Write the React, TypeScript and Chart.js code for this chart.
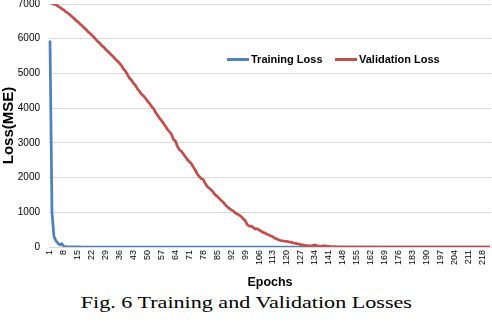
import React, { useEffect, useRef } from "react";
import { Chart, registerables } from "chart.js";

Chart.register(...registerables);

const epochs: string[] = [];
for (let i = 1; i <= 222; i++) epochs.push(String(i));

const trainingLoss = [
  5950, 1000, 300, 180, 110, 60, 90, 15, 5, 3,
  2, 2, 1, 1, 1, 1, 0, 0, 0, 0,
  0, 0, 0, 0, 0, 0, 0, 0, 0, 0,
  0, 0, 0, 0, 0, 0, 0, 0, 0, 0,
  0, 0, 0, 0, 0, 0, 0, 0, 0, 0,
  0, 0, 0, 0, 0, 0, 0, 0, 0, 0,
  0, 0, 0, 0, 0, 0, 0, 0, 0, 0,
  0, 0, 0, 0, 0, 0, 0, 0, 0, 0,
  0, 0, 0, 0, 0, 0, 0, 0, 0, 0,
  0, 0, 0, 0, 0, 0, 0, 0, 0, 0,
  0, 0, 0, 0, 0, 0, 0, 0, 0, 0,
  0, 0, 0, 0, 0, 0, 0, 0, 0, 0,
  0, 0, 0, 0, 0, 0, 0, 0, 0, 0,
  0, 0, 0, 0, 0, 0, 0, 0, 0, 30,
  10, 0, 0, 0, 0, 0, 0, 0, 0, 0,
  0, 0, 0, 0, 0, 0, 0, 0, 0, 0,
  0, 0, 0, 0, 0, 0, 0, 0, 0, 0,
  0, 0, 0, 0, 0, 0, 0, 0, 0, 0,
  0, 0, 0, 0, 0, 0, 0, 0, 0, 0,
  0, 0, 0, 0, 0, 0, 0, 0, 0, 0,
  0, 0, 0, 0, 0, 0, 0, 0, 0, 0,
  0, 0, 0, 0, 0, 0, 0, 0, 0, 0,
  0, 0,
];

const validationLoss = [
  7040, 7020, 6990, 6985, 6940, 6900, 6860, 6825, 6770, 6740,
  6690, 6640, 6590, 6530, 6485, 6430, 6380, 6320, 6270, 6210,
  6160, 6100, 6050, 5980, 5920, 5870, 5800, 5760, 5690, 5640,
  5580, 5520, 5470, 5400, 5350, 5290, 5220, 5120, 5060, 4950,
  4860, 4800, 4710, 4650, 4550, 4480, 4400, 4350, 4280, 4200,
  4140, 4050, 3990, 3880, 3800, 3710, 3640, 3560, 3480, 3390,
  3320, 3250, 3100, 3050, 2900, 2800, 2760, 2680, 2600, 2520,
  2460, 2400, 2300, 2210, 2100, 2030, 1970, 1940, 1830, 1740,
  1690, 1640, 1580, 1500, 1460, 1400, 1340, 1290, 1220, 1160,
  1115, 1070, 1040, 980, 950, 920, 880, 810, 760, 650,
  600, 600, 570, 520, 530, 490, 460, 420, 400, 370,
  346, 320, 290, 250, 230, 200, 185, 180, 160, 165,
  150, 140, 120, 110, 95, 86, 70, 60, 45, 40,
  29, 30, 45, 58, 40, 25, 20, 30, 29, 15,
  20, 10, 5, 8, 0, 3, 0, 2, 0, 0,
  1, 0, 0, 2, 0, 0, 0, 1, 0, 0,
  0, 0, 1, 0, 0, 0, 0, 0, 0, 0,
  0, 0, 0, 0, 0, 0, 0, 0, 0, 0,
  0, 0, 0, 0, 0, 0, 0, 0, 0, 0,
  0, 0, 0, 0, 0, 0, 0, 0, 0, 0,
  0, 0, 0, 0, 0, 0, 0, 0, 0, 0,
  0, 0, 0, 0, 0, 0, 0, 0, 0, 0,
  0, 0,
];

const yTicks = [0, 1000, 2000, 3000, 4000, 5000, 6000, 7000];
const labelEvery = 7;

const BLUE = "#4f81bd";
const RED = "#c0504d";

export default function App() {
  const ref = useRef<HTMLCanvasElement>(null);

  useEffect(() => {
    document.body.style.margin = "0";
    const chart = new Chart(ref.current!, {
      type: "line",
      data: {
        labels: epochs,
        datasets: [
          {
            label: "Training Loss",
            data: trainingLoss,
            borderColor: BLUE,
            backgroundColor: BLUE,
            borderWidth: 2.75,
            pointRadius: 0,
            tension: 0,
            order: 1,
          },
          {
            label: "Validation Loss",
            data: validationLoss,
            borderColor: RED,
            backgroundColor: RED,
            borderWidth: 2.75,
            pointRadius: 0,
            tension: 0,
            order: 0,
          },
        ],
      },
      options: {
        animation: false,
        responsive: true,
        maintainAspectRatio: false,
        layout: { padding: { left: 0, right: 1, top: 4, bottom: 0 } },
        plugins: {
          legend: { display: false },
          tooltip: { enabled: false },
        },
        scales: {
          x: {
            type: "category",
            offset: true,
            grid: { display: false, drawTicks: false },
            border: { display: true, color: "#d9d9d9", width: 1 },
            ticks: {
              autoSkip: false,
              minRotation: 90,
              maxRotation: 90,
              padding: 3,
              color: "#000",
              font: { family: "Liberation Sans", size: 9 },
              callback: (_v: any, i: number) => (i % labelEvery === 0 ? epochs[i] : ""),
            },
            title: {
              display: true,
              text: "Epochs",
              color: "#000",
              font: { family: "Liberation Sans", size: 12.5, weight: "bold" },
              padding: { top: 0, bottom: 2 },
            },
            afterFit: (s: any) => {
              s.height = 45;
              s.paddingLeft = 0;
              s.paddingRight = 0;
              s.paddingTop = 0;
              s.paddingBottom = 0;
            },
          },
          y: {
            min: 0,
            max: 7000,
            afterBuildTicks: (s: any) => {
              s.ticks = yTicks.map((v) => ({ value: v }));
            },
            grid: { color: "#d9d9d9", drawTicks: false, lineWidth: 1 },
            border: { display: false },
            ticks: {
              padding: 9,
              color: "#000",
              font: { family: "Liberation Sans", size: 10 },
              callback: (v: any) => String(v),
            },
            title: {
              display: true,
              text: "Loss(MSE)",
              color: "#000",
              font: { family: "Liberation Sans", size: 15, weight: "bold" },
              padding: { top: 0, bottom: 0 },
            },
            afterFit: (s: any) => {
              s.width = 49;
              s.paddingLeft = 0;
              s.paddingRight = 0;
              s.paddingTop = 0;
              s.paddingBottom = 0;
            },
          },
        },
      },
    });
    return () => chart.destroy();
  }, []);

  const legendText: React.CSSProperties = {
    fontFamily: "Liberation Sans",
    fontWeight: "bold",
    fontSize: 11,
    color: "#000",
    position: "absolute",
    top: 52,
    whiteSpace: "nowrap",
    lineHeight: "14px",
  };
  const swatch = (left: number, color: string): React.CSSProperties => ({
    position: "absolute",
    left,
    top: 58,
    width: 22,
    height: 3,
    background: color,
  });

  return (
    <div style={{ position: "relative", width: 492, height: 326, background: "#fff" }}>
      <div style={{ position: "absolute", left: 0, top: 0, width: 492, height: 292 }}>
        <canvas ref={ref} />
      </div>
      <div style={swatch(227, BLUE)} />
      <div style={{ ...legendText, left: 251 }}>Training Loss</div>
      <div style={swatch(335, RED)} />
      <div style={{ ...legendText, left: 359 }}>Validation Loss</div>
      <div
        style={{
          position: "absolute",
          left: 0,
          width: 492,
          top: 293,
          textAlign: "center",
          fontFamily: "Liberation Serif",
          fontSize: 17,
          lineHeight: "20px",
          color: "#000",
        }}
      >
        <span style={{ display: "inline-block", transform: "scaleX(1.3)" }}>
          Fig. 6 Training and Validation Losses
        </span>
      </div>
    </div>
  );
}
